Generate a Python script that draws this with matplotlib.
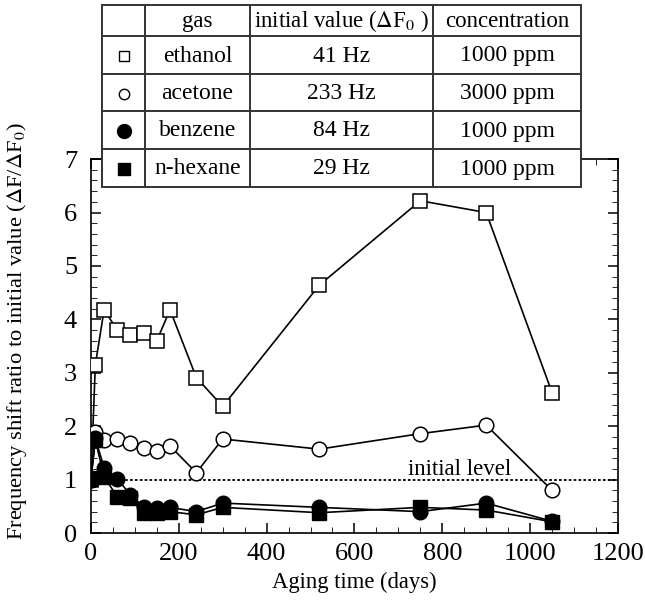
import numpy as np
import matplotlib
matplotlib.use("Agg")
import matplotlib.pyplot as plt
from matplotlib.ticker import MultipleLocator

plt.rcParams["font.family"] = ["Liberation Serif", "DejaVu Serif"]
plt.rcParams["mathtext.fontset"] = "stix"

# data
days = [0, 10, 30, 60, 90, 120, 150, 180, 240, 300, 520, 750, 900, 1050]
ethanol = [1.0, 3.15, 4.18, 3.80, 3.71, 3.74, 3.60, 4.18, 2.91, 2.37, 4.64, 6.22, 6.0, 2.63]
acetone = [1.0, 1.90, 1.75, 1.76, 1.68, 1.60, 1.54, 1.63, 1.13, 1.76, 1.57, 1.86, 2.02, 0.80]
benzene = [1.0, 1.77, 1.22, 1.02, 0.71, 0.49, 0.46, 0.48, 0.40, 0.56, 0.48, 0.40, 0.56, 0.22]
hexane = [1.03, 1.74, 1.05, 0.68, 0.65, 0.37, 0.37, 0.40, 0.34, 0.48, 0.38, 0.48, 0.43, 0.21]

gases = ["ethanol", "acetone", "benzene", "n-hexane"]
initial_values = ["41 Hz", "233 Hz", "84 Hz", "29 Hz"]
concentrations = ["1000 ppm", "3000 ppm", "1000 ppm", "1000 ppm"]
headers = ["gas", r"initial value ($\Delta$F$_0$ )", "concentration"]

fig = plt.figure(figsize=(6.45, 6.05), dpi=100)
ax = fig.add_axes([0.141, 0.119, 0.817, 0.618])

ax.plot(days, ethanol, color="k", lw=1.2, marker="s", ms=10, mfc="white", mec="k", mew=1.1, zorder=3)
ax.plot(days, acetone, color="k", lw=1.2, marker="o", ms=10.5, mfc="white", mec="k", mew=1.1, zorder=3)
ax.plot(days, hexane, color="k", lw=1.2, marker="s", ms=10, mfc="k", mec="k", zorder=4)
ax.plot(days, benzene, color="k", lw=1.2, marker="o", ms=10.5, mfc="k", mec="k", zorder=4)

ax.axhline(1.0, color="k", lw=1.3, ls=(0, (1.5, 1.2)), zorder=2)
ax.text(840, 1.09, "initial level", fontsize=16.5, ha="center", va="baseline")

ax.set_xlim(0, 1200)
ax.set_ylim(0, 7)
ax.xaxis.set_major_locator(MultipleLocator(200))
ax.xaxis.set_minor_locator(MultipleLocator(50))
ax.yaxis.set_major_locator(MultipleLocator(1))
ax.yaxis.set_minor_locator(MultipleLocator(0.2))
ax.tick_params(which="both", direction="in", top=True, right=True, labelsize=19)
ax.tick_params(which="major", length=7, width=1.1)
ax.tick_params(which="minor", length=4)
ax.tick_params(axis="y", pad=10)
ax.tick_params(axis="x", pad=7)
for s in ax.spines.values():
    s.set_linewidth(1.2)
ax.set_xlabel("Aging time (days)", fontsize=16.3, labelpad=5)
ax.set_ylabel(r"Frequency shift ratio to initial value ($\Delta$F/$\Delta$F$_0$)", fontsize=16.2)
ax.yaxis.set_label_coords(-0.118, 0.54)

# table drawn on top in pixel coordinates
tb = fig.add_axes([0, 0, 1, 1], zorder=10)
tb.set_xlim(0, 645)
tb.set_ylim(605, 0)
tb.axis("off")
col_x = [102, 145, 250, 433, 581]
row_y = [5, 36, 74, 111, 149, 187]
tb.add_patch(plt.Rectangle((col_x[0], row_y[0]), col_x[-1] - col_x[0], row_y[-1] - row_y[0],
                           facecolor="white", edgecolor="#333333", lw=1.4))
for x in col_x[1:-1]:
    tb.plot([x, x], [row_y[0], row_y[-1]], color="#333333", lw=1.4)
for y in row_y[1:-1]:
    tb.plot([col_x[0], col_x[-1]], [y, y], color="#333333", lw=1.4)

for j, h in enumerate(headers):
    tb.text((col_x[j + 1] + col_x[j + 2]) / 2, (row_y[0] + row_y[1]) / 2 + 1, h,
            fontsize=16.5, ha="center", va="center")

sym = [("s", "white", 7), ("o", "white", 7.5), ("o", "k", 10), ("s", "k", 8.5)]
for i in range(4):
    yc = (row_y[i + 1] + row_y[i + 2]) / 2 + 1
    m, fc, s = sym[i]
    tb.plot([(col_x[0] + col_x[1]) / 2], [yc], marker=m, ms=s, mfc=fc, mec="k", mew=1, ls="none")
    tb.text((col_x[1] + col_x[2]) / 2, yc, gases[i], fontsize=17, ha="center", va="center")
    tb.text((col_x[2] + col_x[3]) / 2, yc, initial_values[i], fontsize=17, ha="center", va="center")
    tb.text((col_x[3] + col_x[4]) / 2, yc, concentrations[i], fontsize=17, ha="center", va="center")

fig.savefig("out.png", dpi=100)
